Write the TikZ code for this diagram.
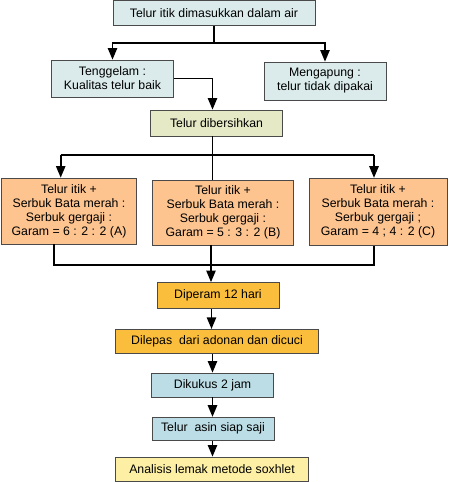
\documentclass[tikz,border=0pt]{standalone}
\usepackage{fontspec}
\setmainfont{Liberation Sans}
\usepackage{tikz}
\usetikzlibrary{arrows}
\definecolor{biru}{HTML}{DBEBEB}
\definecolor{birutua}{HTML}{BDDDE6}
\definecolor{zaitun}{HTML}{E6E9C6}
\definecolor{jingga}{HTML}{FDC490}
\definecolor{emas}{HTML}{FBBE3C}
\definecolor{kuning}{HTML}{FDEFA3}
\definecolor{garis}{HTML}{4A4A4A}

\begin{document}
\begin{tikzpicture}[line cap=butt,line join=miter,>=triangle 45,x=1pt,y=-1pt,
kotak/.style={draw=garis,line width=0.9pt,inner sep=0pt,align=center,
  font=\fontsize{12.3}{14}\selectfont},
panah/.style={->,line width=1.7pt},
tebal/.style={line width=1.7pt},
tipis/.style={line width=0.7pt}]
\useasboundingbox (0,0) rectangle (453,482);
% kotak-kotak
\node[kotak,fill=biru,minimum width=202,minimum height=25] (masuk) at (214,13) {Telur itik dimasukkan dalam air};
\node[kotak,fill=biru,minimum width=122,minimum height=37] (tenggelam) at (112.5,78.5) {Tenggelam :\\Kualitas telur baik};
\node[kotak,fill=biru,minimum width=122,minimum height=38] (apung) at (325,81) {Mengapung :\\telur tidak dipakai};
\node[kotak,fill=zaitun,minimum width=132,minimum height=26] (bersih) at (216.5,123) {Telur dibersihkan};
\node[kotak,fill=jingga,minimum width=135,minimum height=66] (campA) at (69,211) {Telur itik +\\Serbuk Bata merah :\\Serbuk gergaji :\\Garam = 6 : 2 : 2 (A)};
\node[kotak,fill=jingga,minimum width=141,minimum height=65] (campB) at (223,212.5) {Telur itik +\\Serbuk Bata merah :\\Serbuk gergaji :\\Garam = 5 : 3 : 2 (B)};
\node[kotak,fill=jingga,minimum width=138,minimum height=67] (campC) at (378,211.7) {Telur itik +\\Serbuk Bata merah :\\Serbuk gergaji ;\\Garam = 4 ; 4 : 2 (C)};
\node[kotak,fill=emas,minimum width=122,minimum height=26] (peram) at (218,295.5) {Diperam 12 hari};
\node[kotak,fill=emas,minimum width=203,minimum height=24] (lepas) at (217,341.3) {Dilepas\ \ dari adonan dan dicuci};
\node[kotak,fill=birutua,minimum width=122,minimum height=24] (kukus) at (212.5,385) {Dikukus 2 jam};
\node[kotak,fill=birutua,minimum width=122,minimum height=23] (asin) at (213,428.7) {Telur\ \ asin siap saji};
\node[kotak,fill=kuning,minimum width=193,minimum height=24] (lemak) at (212,469) {Analisis lemak metode soxhlet};
% titik bantu
\coordinate (tulang) at (212.5,0);
\coordinate (cab1) at (213.7,43.3);
\coordinate (cab2) at (212.5,155);
\coordinate (kiri) at (60.7,155);
\coordinate (kanan) at (374,155);
\coordinate (gab1) at (54,265);
\coordinate (gab2) at (374,265);
% garis
\draw[tebal] (masuk.south -| cab1) -- (cab1);
\draw[panah] (cab1) -| (tenggelam.north);
\draw[panah] (cab1) -| (apung.north);
\draw[panah] (tenggelam.east) -| (tulang |- bersih.north);
\draw[tipis] (tulang |- bersih.south) -- (tulang |- campB.north);
\draw[tebal] (kiri) -- (kanan);
\draw[panah] (kiri) -- (kiri |- campA.north);
\draw[panah] (kanan) -- (kanan |- campC.north);
\draw[tebal] (gab1 |- campA.south) -- (gab1) -- (gab2) -- (gab2 |- campC.south);
\draw[panah] ([xshift=-1.5pt]tulang |- campB.south) -- ([xshift=-1.5pt]tulang |- peram.north);
\draw[panah] ([xshift=-1pt]tulang |- peram.south) -- ([xshift=-1pt]tulang |- lepas.north);
\draw[panah] (tulang |- lepas.south) -- (tulang |- kukus.north);
\draw[panah] (tulang |- kukus.south) -- (tulang |- asin.north);
\draw[panah] (tulang |- asin.south) -- (tulang |- lemak.north);
\end{tikzpicture}
\end{document}
